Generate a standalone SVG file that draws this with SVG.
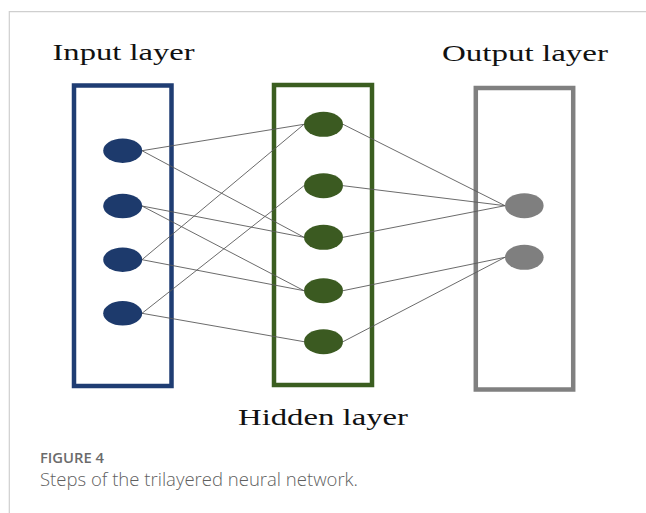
<svg xmlns="http://www.w3.org/2000/svg" width="646" height="513" viewBox="0 0 646 513">
<style>
.lbl{font-family:"Liberation Serif","Times New Roman",serif;font-size:23px;fill:#111}
.cap1{font-family:"Open Sans","Noto Sans",sans-serif;font-size:14px;font-weight:600;fill:#6b6b6b}
.cap2{font-family:"Open Sans","Noto Sans",sans-serif;font-size:18px;font-weight:300;fill:#5f5f5f}
.box{fill:none;stroke-width:4.5}
.edge{stroke:#5a5a5a;stroke-width:0.9;fill:none}
.in{fill:#1d3a6c}
.hid{fill:#3b5a21}
.out{fill:#7f7f7f}
</style>
<rect width="646" height="513" fill="#fff"/>
<g id="frame" stroke="#cfcfcf" stroke-width="1.2" fill="none">
<path d="M9.3 513 V11.6 H646"/>
</g>
<g id="input-layer">
<rect class="box" x="74" y="85.5" width="97.5" height="300.5" stroke="#1f3d73"/>
<text class="lbl" x="52.5" y="60" textLength="142" lengthAdjust="spacingAndGlyphs">Input layer</text>
</g>
<g id="hidden-layer">
<rect class="box" x="274" y="85" width="98" height="300" stroke="#3b5e20"/>
<text class="lbl" x="238" y="425" textLength="170" lengthAdjust="spacingAndGlyphs">Hidden layer</text>
</g>
<g id="output-layer">
<rect class="box" x="475.8" y="88" width="97.4" height="301.5" stroke="#808080"/>
<text class="lbl" x="442" y="60.5" textLength="166" lengthAdjust="spacingAndGlyphs">Output layer</text>
</g>
<g id="connectors">
<line class="edge" x1="142" y1="150.7" x2="304" y2="124.3"/>
<line class="edge" x1="142" y1="150.7" x2="304" y2="237.3"/>
<line class="edge" x1="142" y1="206" x2="304" y2="237.3"/>
<line class="edge" x1="142" y1="206" x2="304" y2="290.7"/>
<line class="edge" x1="142" y1="259.7" x2="304" y2="124.3"/>
<line class="edge" x1="142" y1="259.7" x2="304" y2="290.7"/>
<line class="edge" x1="142" y1="313.3" x2="304" y2="185.7"/>
<line class="edge" x1="142" y1="313.3" x2="304" y2="341.7"/>
<line class="edge" x1="343" y1="124.3" x2="505" y2="205.7"/>
<line class="edge" x1="343" y1="185.7" x2="505" y2="205.7"/>
<line class="edge" x1="343" y1="237.3" x2="505" y2="205.7"/>
<line class="edge" x1="343" y1="290.7" x2="505" y2="257.3"/>
<line class="edge" x1="343" y1="341.7" x2="505" y2="257.3"/>
</g>
<g id="in1"><ellipse class="in" cx="122.7" cy="150.7" rx="19.5" ry="12.2"/></g>
<g id="in2"><ellipse class="in" cx="122.7" cy="206" rx="19.5" ry="12.2"/></g>
<g id="in3"><ellipse class="in" cx="122.7" cy="259.7" rx="19.5" ry="12.2"/></g>
<g id="in4"><ellipse class="in" cx="122.7" cy="313.3" rx="19.5" ry="12.2"/></g>
<g id="h1"><ellipse class="hid" cx="323.5" cy="124.3" rx="19.5" ry="12.5"/></g>
<g id="h2"><ellipse class="hid" cx="323.5" cy="185.7" rx="19.5" ry="12.5"/></g>
<g id="h3"><ellipse class="hid" cx="323.5" cy="237.3" rx="19.5" ry="12.5"/></g>
<g id="h4"><ellipse class="hid" cx="323.5" cy="290.7" rx="19.5" ry="12.5"/></g>
<g id="h5"><ellipse class="hid" cx="323.5" cy="341.7" rx="19.5" ry="12.5"/></g>
<g id="o1"><ellipse class="out" cx="524.3" cy="205.7" rx="19.3" ry="12.5"/></g>
<g id="o2"><ellipse class="out" cx="524.3" cy="257.3" rx="19.3" ry="12.5"/></g>
<g id="caption">
<text class="cap1" x="40" y="463.3" textLength="64" lengthAdjust="spacingAndGlyphs">FIGURE 4</text>
<text class="cap2" x="40" y="486" textLength="318" lengthAdjust="spacingAndGlyphs">Steps of the trilayered neural network.</text>
</g>
</svg>
